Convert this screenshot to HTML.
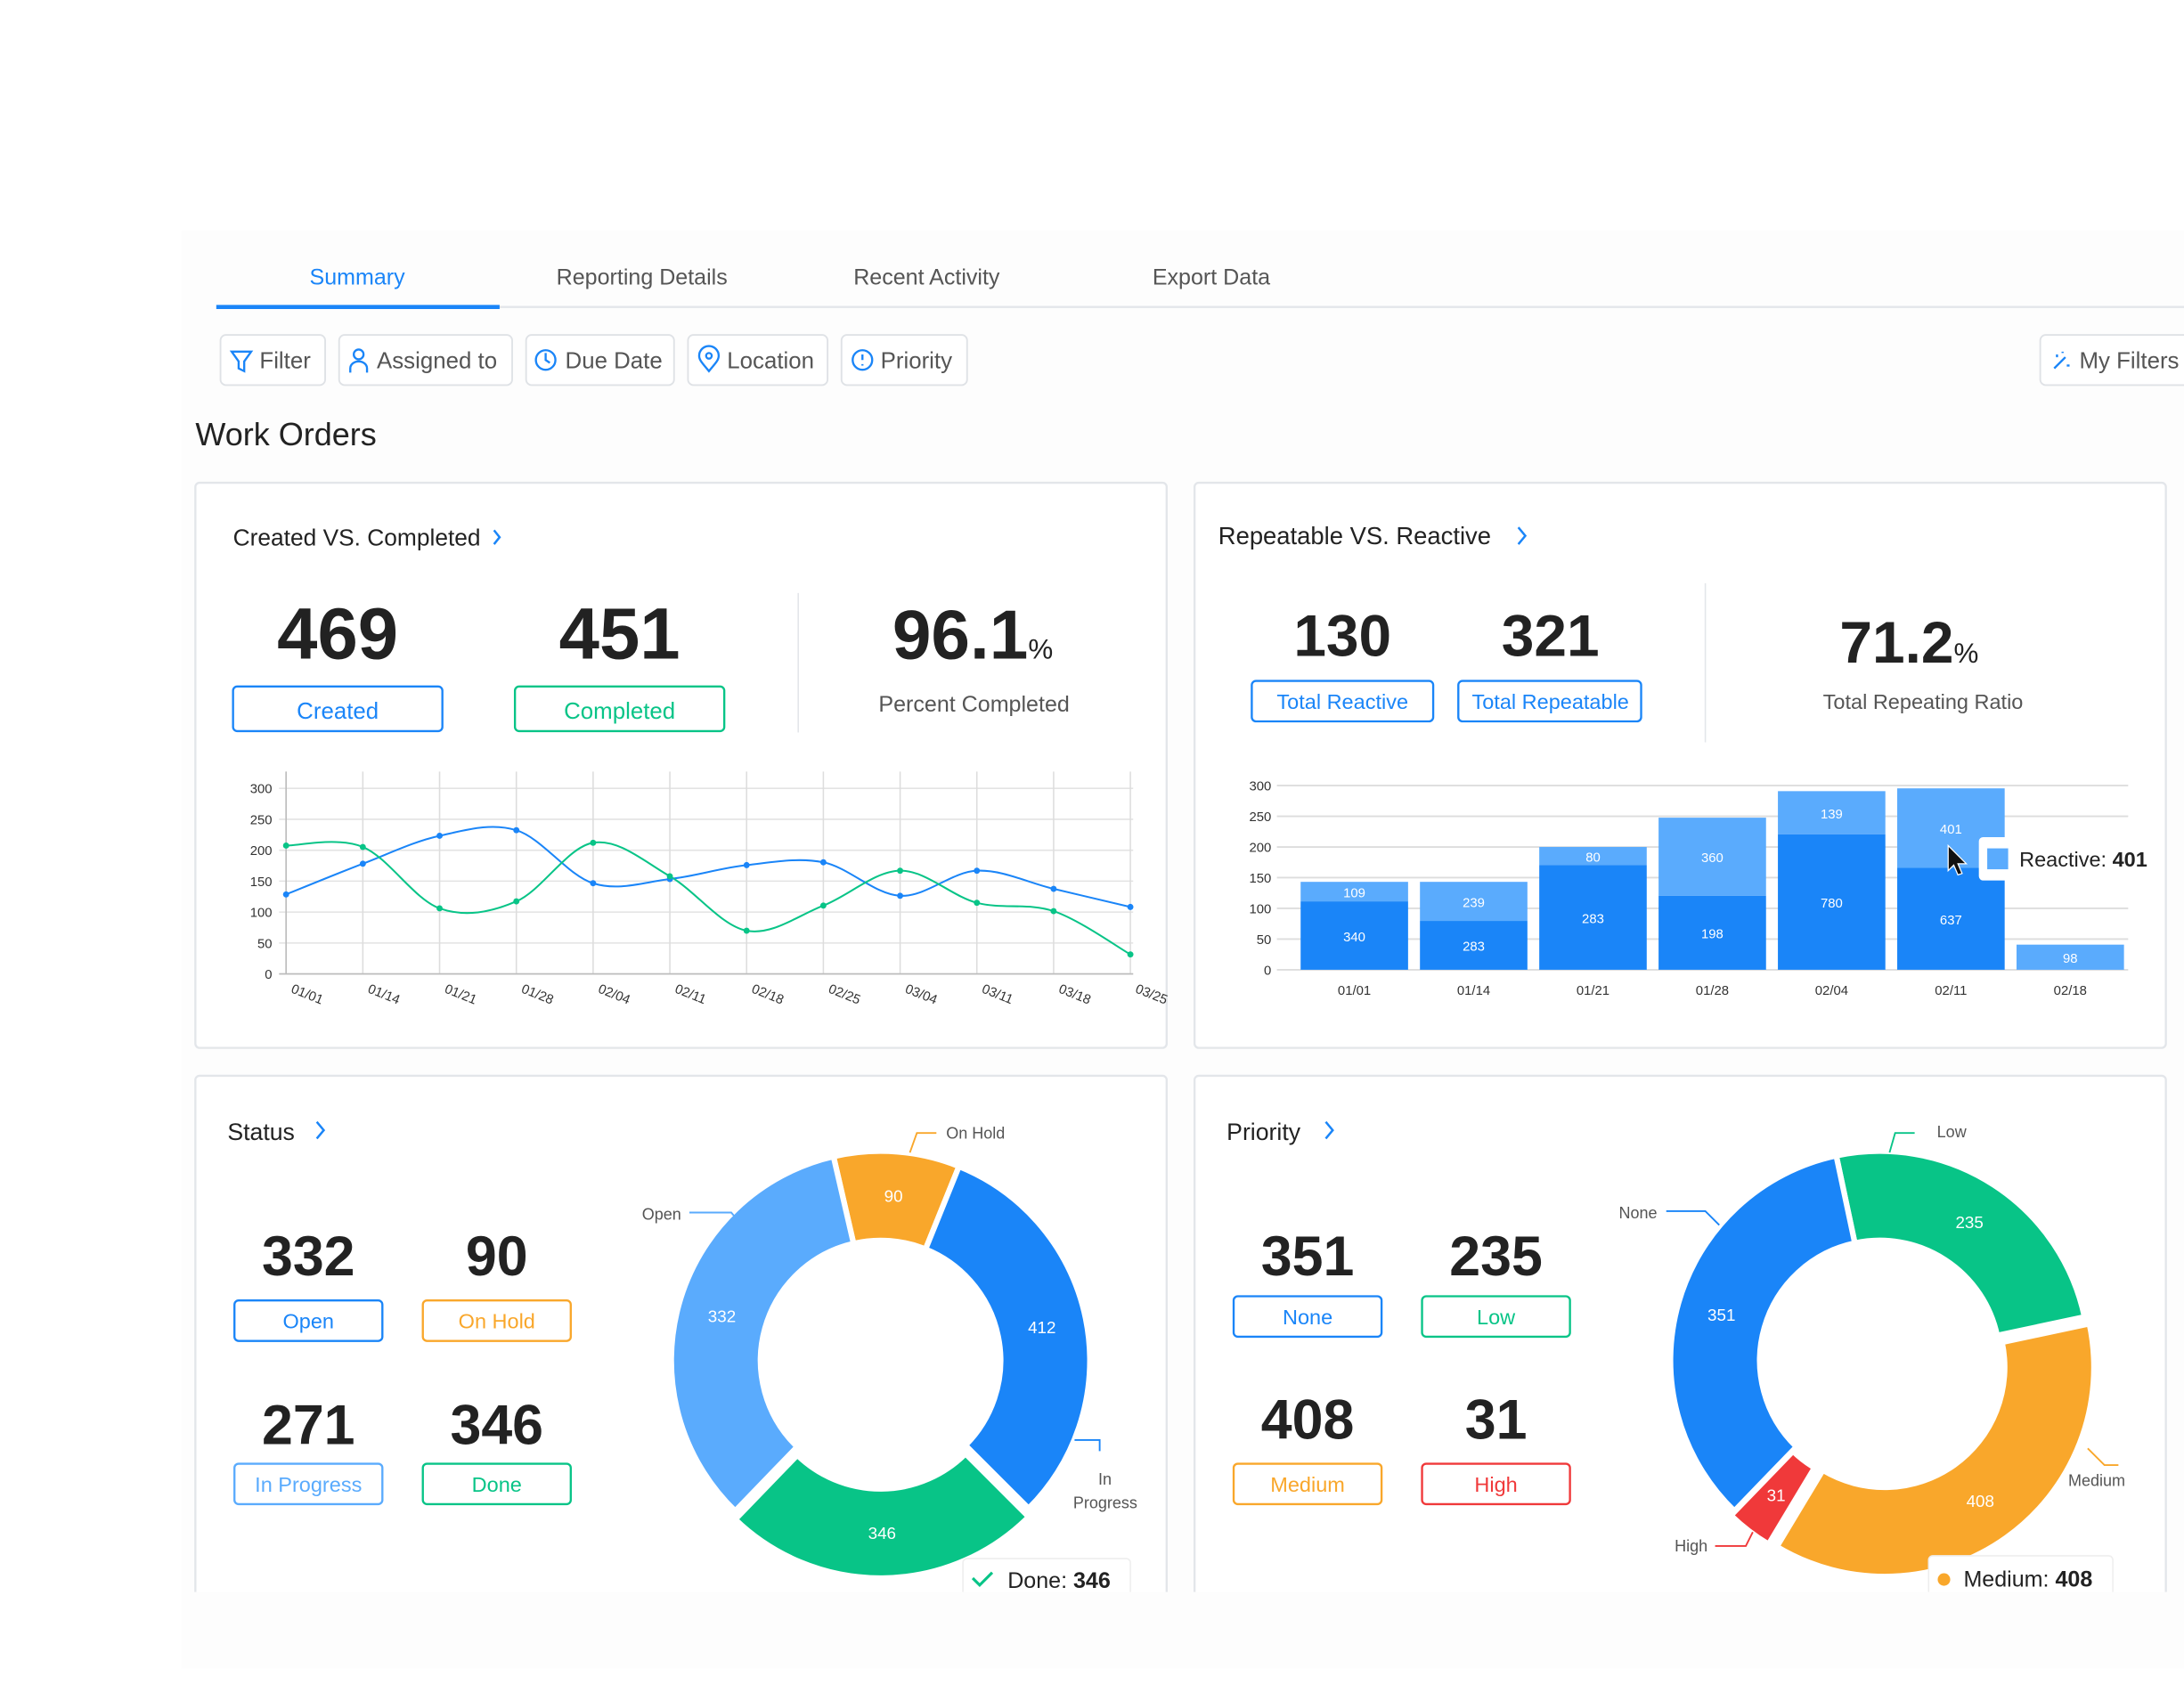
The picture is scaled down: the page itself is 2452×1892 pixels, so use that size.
<!DOCTYPE html>
<html><head><meta charset="utf-8"><style>
html,body{margin:0;padding:0;background:#fff;}
svg{display:block;font-family:"Liberation Sans",sans-serif;}
</style></head><body>
<svg id="s" width="2452" height="1892" viewBox="0 0 1565 1207.6" preserveAspectRatio="none" xmlns="http://www.w3.org/2000/svg">
<rect width="1565" height="1208" fill="#fff"/>
<rect x="130" y="165" width="1435" height="1030" fill="#fdfdfd"/>
<g font-size="16" text-anchor="middle" fill="#555">
<text x="256" y="204" fill="#1a85f8">Summary</text>
<text x="460" y="204">Reporting Details</text>
<text x="664" y="204">Recent Activity</text>
<text x="868" y="204">Export Data</text>
</g>
<line x1="155" y1="220" x2="1565" y2="220" stroke="#e3e6ea" stroke-width="1.5"/>
<line x1="155" y1="220" x2="358" y2="220" stroke="#1a85f8" stroke-width="3"/>
<g fill="#fff" stroke="#dfe2e6" stroke-width="1.2">
<rect x="158" y="240" width="75" height="36" rx="4"/>
<rect x="243" y="240" width="124" height="36" rx="4"/>
<rect x="377" y="240" width="106" height="36" rx="4"/>
<rect x="493" y="240" width="100" height="36" rx="4"/>
<rect x="603" y="240" width="90" height="36" rx="4"/>
<rect x="1462" y="240" width="110" height="36" rx="4"/>
</g>
<g font-size="16.5" fill="#555">
<text x="186" y="264">Filter</text>
<text x="270" y="264">Assigned to</text>
<text x="405" y="264">Due Date</text>
<text x="521" y="264">Location</text>
<text x="631" y="264">Priority</text>
<text x="1490" y="264">My Filters</text>
</g>
<g fill="none" stroke="#1a85f8" stroke-width="1.5">
<path d="M166 252h14l-5 7v7l-4-2v-5z"/>
<circle cx="257" cy="254" r="3.5"/><path d="M251 267v-3a6 5 0 0 1 12 0v3"/>
<circle cx="391" cy="258" r="7"/><path d="M391 253v5l3 2"/>
<path d="M508 266c-5-6-7-8-7-11a7 7 0 0 1 14 0c0 3-2 5-7 11z"/><circle cx="508" cy="255" r="2"/>
<circle cx="618" cy="258" r="7"/><path d="M618 254v4M618 261v1"/>
<path d="M1472 264l8-8M1474 254v2M1481 262h2M1478 252v1"/>
</g>
<text x="140" y="319" font-size="23" fill="#222">Work Orders</text>

<g fill="#fff" stroke="#e3e6ea" stroke-width="1.5">
<rect x="140" y="346" width="696" height="405" rx="3"/>
<rect x="856" y="346" width="696" height="405" rx="3"/>
<rect x="140" y="771" width="696" height="420" rx="3"/>
<rect x="856" y="771" width="696" height="420" rx="3"/>
</g>

<text x="167" y="391" font-size="16.8" fill="#222">Created VS. Completed</text>
<path d="M354 380l4 5-4 5" fill="none" stroke="#1a85f8" stroke-width="1.6"/>
<g font-weight="bold" font-size="52" text-anchor="middle" fill="#222">
<text x="242" y="472">469</text><text x="444" y="472">451</text>
<text x="697" y="472" font-size="50">96.1<tspan font-size="20" font-weight="normal">%</tspan></text>
</g>
<rect x="167" y="492" width="150" height="32" rx="3" fill="#fff" stroke="#1a85f8" stroke-width="1.5"/>
<rect x="369" y="492" width="150" height="32" rx="3" fill="#fff" stroke="#08c487" stroke-width="1.5"/>
<text x="242" y="515" font-size="16.5" text-anchor="middle" fill="#1a85f8">Created</text>
<text x="444" y="515" font-size="16.5" text-anchor="middle" fill="#08c487">Completed</text>
<line x1="572" y1="425" x2="572" y2="525" stroke="#e3e6ea"/>
<text x="698" y="510" font-size="16" text-anchor="middle" fill="#555">Percent Completed</text>
<g id="lc" font-size="9.5" fill="#333"></g>

<text x="873" y="390" font-size="17.5" fill="#222">Repeatable VS. Reactive</text>
<path d="M1088 378l5 6-5 6" fill="none" stroke="#1a85f8" stroke-width="1.6"/>
<g font-weight="bold" font-size="42" text-anchor="middle" fill="#222">
<text x="962" y="470">130</text><text x="1111" y="470">321</text>
<text x="1368" y="475">71.2<tspan font-size="20" font-weight="normal">%</tspan></text>
</g>
<rect x="897" y="488" width="130" height="29" rx="3" fill="#fff" stroke="#1a85f8" stroke-width="1.5"/>
<rect x="1045" y="488" width="131" height="29" rx="3" fill="#fff" stroke="#1a85f8" stroke-width="1.5"/>
<text x="962" y="508" font-size="15" text-anchor="middle" fill="#1a85f8">Total Reactive</text>
<text x="1111" y="508" font-size="15" text-anchor="middle" fill="#1a85f8">Total Repeatable</text>
<line x1="1222" y1="418" x2="1222" y2="532" stroke="#e3e6ea"/>
<text x="1378" y="508" font-size="15" text-anchor="middle" fill="#555">Total Repeating Ratio</text>
<g id="bc" font-size="9.5"></g>

<text x="163" y="817" font-size="17" fill="#222">Status</text>
<path d="M227 804l5 6-5 6" fill="none" stroke="#1a85f8" stroke-width="1.6"/>
<g font-weight="bold" font-size="40" text-anchor="middle" fill="#222">
<text x="221" y="914">332</text><text x="356" y="914">90</text>
<text x="221" y="1035">271</text><text x="356" y="1035">346</text>
</g>
<g fill="#fff" stroke-width="1.5">
<rect x="168" y="932" width="106" height="29" rx="3" stroke="#1a85f8"/>
<rect x="303" y="932" width="106" height="29" rx="3" stroke="#f9a72b"/>
<rect x="168" y="1049" width="106" height="29" rx="3" stroke="#5aabfd"/>
<rect x="303" y="1049" width="106" height="29" rx="3" stroke="#08c487"/>
</g>
<g font-size="15" text-anchor="middle">
<text x="221" y="952" fill="#1a85f8">Open</text>
<text x="356" y="952" fill="#f9a72b">On Hold</text>
<text x="221" y="1069" fill="#5aabfd">In Progress</text>
<text x="356" y="1069" fill="#08c487">Done</text>
</g>
<g id="d1"></g>

<text x="879" y="817" font-size="17" fill="#222">Priority</text>
<path d="M950 804l5 6-5 6" fill="none" stroke="#1a85f8" stroke-width="1.6"/>
<g font-weight="bold" font-size="40" text-anchor="middle" fill="#222">
<text x="937" y="914">351</text><text x="1072" y="914">235</text>
<text x="937" y="1031">408</text><text x="1072" y="1031">31</text>
</g>
<g fill="#fff" stroke-width="1.5">
<rect x="884" y="929" width="106" height="29" rx="3" stroke="#1a85f8"/>
<rect x="1019" y="929" width="106" height="29" rx="3" stroke="#08c487"/>
<rect x="884" y="1049" width="106" height="29" rx="3" stroke="#f9a72b"/>
<rect x="1019" y="1049" width="106" height="29" rx="3" stroke="#f0393a"/>
</g>
<g font-size="15" text-anchor="middle">
<text x="937" y="949" fill="#1a85f8">None</text>
<text x="1072" y="949" fill="#08c487">Low</text>
<text x="937" y="1069" fill="#f9a72b">Medium</text>
<text x="1072" y="1069" fill="#f0393a">High</text>
</g>
<g id="d2"></g>

<g fill="none" stroke-width="1.2">
<path d="M652 826l5-14h14" stroke="#f9a72b"/>
<path d="M494 869h30l5 6" stroke="#5aabfd"/>
<path d="M770 1032h18v8" stroke="#1a85f8"/>
<path d="M1354 826l4-14h14" stroke="#08c487"/>
<path d="M1194 868h28l10 10" stroke="#1a85f8"/>
<path d="M1496 1038l12 12h10" stroke="#f9a72b"/>
<path d="M1229 1108h22l5-10" stroke="#f0393a"/>
</g>
<g font-size="11.5" fill="#555">
<text x="678" y="816">On Hold</text>
<text x="460" y="874">Open</text>
<text x="787" y="1064">In</text><text x="769" y="1081">Progress</text>
<text x="1388" y="815">Low</text>
<text x="1160" y="873">None</text>
<text x="1482" y="1065">Medium</text>
<text x="1200" y="1112">High</text>
</g>
<g id="tips">
<rect x="690" y="1117" width="120" height="30" rx="3" fill="#fff" stroke="#eee"/>
<path d="M697 1131l5 5 9-9" fill="none" stroke="#08c487" stroke-width="2"/>
<text x="722" y="1138" font-size="16" fill="#222">Done: <tspan font-weight="bold">346</tspan></text>
<rect x="1382" y="1115" width="132" height="30" rx="3" fill="#fff" stroke="#eee"/>
<circle cx="1393" cy="1132" r="4.5" fill="#f9a72b"/>
<text x="1407" y="1137" font-size="16" fill="#222">Medium: <tspan font-weight="bold">408</tspan></text>
<rect x="1418" y="600" width="132" height="31" rx="3" fill="#fff"/>
<rect x="1424" y="608" width="15" height="15" fill="#5aabfd"/>
<text x="1447" y="621" font-size="15" fill="#222">Reactive: <tspan font-weight="bold">401</tspan></text>
<path d="M1396 606v18l4-4 3 7 3-1-3-7h6z" fill="#111" stroke="#fff" stroke-width="0.8"/>
</g>
<rect x="0" y="1141" width="1565" height="70" fill="#fff"/>
<rect x="130" y="1141" width="1435" height="55" fill="#fdfdfd"/>
</svg>
<script>
var NS="http://www.w3.org/2000/svg";
function el(p,t,a,txt){var e=document.createElementNS(NS,t);for(var k in a)e.setAttribute(k,a[k]);if(txt!=null)e.textContent=txt;p.appendChild(e);return e;}
var lc=document.getElementById('lc');
var y0=698,ys=133/300;
[0,50,100,150,200,250,300].forEach(function(v){var y=y0-v*ys;el(lc,'line',{x1:200,x2:812,y1:y,y2:y,stroke:'#e3e3e3'});el(lc,'text',{x:195,y:y+3.5,'text-anchor':'end'},v);});
var xs=[],labs=['01/01','01/14','01/21','01/28','02/04','02/11','02/18','02/25','03/04','03/11','03/18','03/25'];
for(var i=0;i<12;i++){var x=205+i*55;xs.push(x);el(lc,'line',{x1:x,x2:x,y1:553,y2:698,stroke:'#ddd'});}
for(var i=0;i<12;i++){var lx=xs[i]+3;el(lc,'text',{x:lx,y:711,transform:'rotate(22 '+lx+' 711)'},labs[i]);}
el(lc,'line',{x1:205,x2:205,y1:553,y2:698,stroke:'#bbb'});
el(lc,'line',{x1:200,x2:812,y1:698,y2:698,stroke:'#bbb'});
var B=[641,619,599,595,633,630,620,618,642,624,637,650],G=[606,607,651,646,604,628,667,649,624,647,653,684];
function curve(Y){var p=xs.map(function(x,i){return [x,Y[i]];});var d='M'+p[0];for(var i=0;i<p.length-1;i++){var a=p[i-1]||p[i],b=p[i],c=p[i+1],e=p[i+2]||c;d+=' C'+(b[0]+(c[0]-a[0])/6)+','+(b[1]+(c[1]-a[1])/6)+' '+(c[0]-(e[0]-b[0])/6)+','+(c[1]-(e[1]-b[1])/6)+' '+c;}return d;}
el(lc,'path',{d:curve(B),fill:'none',stroke:'#1a85f8','stroke-width':1.3});
el(lc,'path',{d:curve(G),fill:'none',stroke:'#08c487','stroke-width':1.3});
xs.forEach(function(x,i){el(lc,'circle',{cx:x,cy:B[i],r:2.2,fill:'#1a85f8'});el(lc,'circle',{cx:x,cy:G[i],r:2.2,fill:'#08c487'});});
var bc=document.getElementById('bc');var by=695,bs=132/300;
[0,50,100,150,200,250,300].forEach(function(v){var y=by-v*bs;el(bc,'line',{x1:915,x2:1525,y1:y,y2:y,stroke:'#ddd','stroke-width':1.2});el(bc,'text',{x:911,y:y+3.5,'text-anchor':'end',fill:'#333'},v);});
var bars=[[646,632,'340','109','01/01'],[660,632,'283','239','01/14'],[620,607,'283','80','01/21'],[642,586,'198','360','01/28'],[598,567,'780','139','02/04'],[622,565,'637','401','02/11'],[null,677,'','98','02/18']];
bars.forEach(function(b,i){var x=932+i*85.5,w=77,cx=x+w/2;
el(bc,'rect',{x:x,y:b[1],width:w,height:(b[0]||by)-b[1],fill:'#5aabfd'});
if(b[0]){el(bc,'rect',{x:x,y:b[0],width:w,height:by-b[0],fill:'#1a85f8'});el(bc,'text',{x:cx,y:(b[0]+by)/2+4,'text-anchor':'middle',fill:'#fff'},b[2]);}
el(bc,'text',{x:cx,y:((b[0]||by)+b[1])/2+4,'text-anchor':'middle',fill:'#fff'},b[3]);
el(bc,'text',{x:cx,y:713,'text-anchor':'middle',fill:'#333'},b[4]);});
function arc(g,cx,cy,r1,r2,a0,a1,col,lab,off){var m=(a0+a1)/2*Math.PI/180;cx+=off*Math.sin(m);cy-=off*Math.cos(m);
function P(r,a){a=a*Math.PI/180;return (cx+r*Math.sin(a)).toFixed(2)+','+(cy-r*Math.cos(a)).toFixed(2);}
var la=(a1-a0)>180?1:0;
el(g,'path',{d:'M'+P(r2,a0)+' A'+r2+','+r2+' 0 '+la+' 1 '+P(r2,a1)+' L'+P(r1,a1)+' A'+r1+','+r1+' 0 '+la+' 0 '+P(r1,a0)+'Z',fill:col,stroke:'#fff','stroke-width':4,'stroke-linejoin':'round'});
var rm=(r1+r2)/2;el(g,'text',{x:cx+rm*Math.sin(m),y:cy-rm*Math.cos(m)+4,'text-anchor':'middle',fill:'#fff','font-size':12},lab);}
var d1=document.getElementById('d1');
arc(d1,631,975,86,150,-13,22,'#f9a72b','90',0);
arc(d1,631,975,86,150,22,135,'#1a85f8','412',0);
arc(d1,631,975,86,150,135,224,'#08c487','346',6);
arc(d1,631,975,86,150,224,347,'#5aabfd','332',0);
var d2=document.getElementById('d2');
arc(d2,1347,975,86,150,-12,78,'#08c487','235',0);
arc(d2,1347,975,86,150,78,211,'#f9a72b','408',6);
arc(d2,1347,975,86,150,211,224,'#f0393a','31',4);
arc(d2,1347,975,86,150,224,348,'#1a85f8','351',0);
</script>
</body></html>
